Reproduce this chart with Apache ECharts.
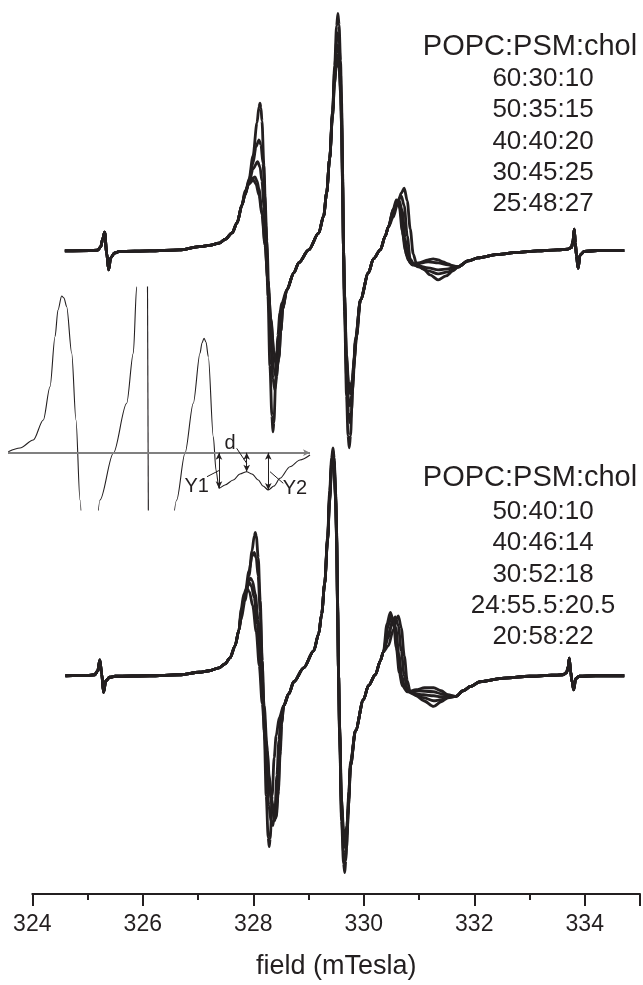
<!DOCTYPE html>
<html>
<head>
<meta charset="utf-8">
<script src="https://cdn.jsdelivr.net/npm/echarts@6/dist/echarts.min.js"></script>
<style>
html,body{margin:0;padding:0;background:#fff}
#chart{width:643px;height:985px}
</style>
</head>
<body>
<div id="chart"></div>
<script>
// ---- EPR spectra: field (mT) vs. derivative intensity (arbitrary units) ----
const tickLabels = [324, 326, 328, 330, 332, 334];
const headerText = 'POPC:PSM:chol';
const topLabels = ['60:30:10', '50:35:15', '40:40:20', '30:45:25', '25:48:27'];
const bottomLabels = ['50:40:10', '40:46:14', '30:52:18', '24:55.5:20.5', '20:58:22'];

// vertical offsets of the two stacks of spectra
const topBase = 643.3;
const bottomBase = 218.3;

// upper stack: segments common to all five spectra
const topLead = [[324.589,0],[325.04,0.3],[325.184,0.8],[325.238,4],[325.274,12],[325.31,18.7],[325.346,-2],[325.382,-19],[325.418,-7],[325.49,-2],[325.58,-0.5],[326.121,0],[326.661,1],[327.022,4.3],[327.202,5.5],[327.382,7.7],[327.49,11.5],[327.616,18],[327.706,28],[327.796,46]];
const topRise1 = [[328.607,-39],[328.733,-22],[328.823,-12],[329.003,1],[329.184,17.7],[329.274,35],[329.328,58],[329.382,92]];
const topRise2 = [[329.94,-49],[330.084,-22],[330.174,-8],[330.3,1],[330.39,15],[330.445,24]];
const topTail = [[331.706,-16],[331.886,-10],[332.067,-7],[332.427,-3.5],[332.787,-1.5],[333.147,0],[333.508,1],[333.688,1.7],[333.76,3.5],[333.787,10],[333.81,21.7],[333.83,8],[333.85,-5],[333.88,-17.3],[333.915,-4],[333.994,-0.5],[334.229,0.3],[334.715,0.3]];

// upper stack: low-field line, central line, high-field line of each spectrum
const topA1 = [[327.85,56],[327.923,72],[327.995,95],[328.067,128],[328.103,144],[328.121,147.7],[328.139,143],[328.157,130],[328.193,85],[328.229,25],[328.265,-45],[328.301,-115],[328.337,-165],[328.355,-181],[328.373,-172],[328.409,-125],[328.445,-85],[328.481,-62],[328.517,-52]];
const topA2 = [[329.436,140],[329.472,185],[329.508,225],[329.532,237.7],[329.553,226],[329.58,190],[329.598,150],[329.616,80],[329.634,0],[329.652,-60],[329.688,-145],[329.715,-185],[329.737,-197],[329.76,-185],[329.796,-140],[329.85,-90]];
const topA3 = [[330.535,34],[330.607,46],[330.679,58],[330.733,62.7],[330.787,50],[330.841,22],[330.895,-3],[330.949,-12],[331.076,-18],[331.2,-24],[331.346,-29],[331.49,-25],[331.616,-20]];

const topB1 = [[327.85,56],[327.923,70],[327.995,88],[328.049,104],[328.103,111],[328.139,106],[328.175,88],[328.211,55],[328.247,10],[328.283,-45],[328.319,-95],[328.355,-128],[328.391,-139],[328.427,-125],[328.463,-90],[328.517,-58]];
const topB2 = [[329.436,140],[329.472,180],[329.508,210],[329.526,218],[329.553,208],[329.58,178],[329.598,140],[329.616,75],[329.634,0],[329.652,-55],[329.688,-125],[329.724,-162],[329.751,-172],[329.778,-160],[329.814,-120],[329.85,-90]];
const topB3 = [[330.535,38],[330.607,50],[330.679,55],[330.733,45],[330.787,15],[330.841,-8],[330.913,-14],[330.985,-16],[331.166,-20],[331.346,-23],[331.526,-21],[331.616,-19]];

const topC1 = [[327.85,56],[327.923,68],[327.995,82],[328.079,89.3],[328.121,84],[328.157,70],[328.193,45],[328.229,10],[328.265,-30],[328.301,-70],[328.337,-100],[328.373,-118],[328.409,-126],[328.445,-112],[328.481,-80],[328.517,-60]];
const topC2 = [[329.436,138],[329.472,175],[329.508,200],[329.526,206],[329.553,198],[329.58,170],[329.598,135],[329.616,72],[329.634,0],[329.652,-50],[329.688,-115],[329.724,-148],[329.751,-155],[329.778,-145],[329.814,-115],[329.85,-88]];
const topC3 = [[330.535,40],[330.607,49],[330.643,50],[330.697,40],[330.751,12],[330.805,-8],[330.877,-14],[330.985,-15],[331.166,-17],[331.346,-19],[331.526,-18],[331.616,-17]];

const topD1 = [[327.85,58],[327.923,68],[327.995,73],[328.031,74],[328.067,70],[328.103,62],[328.157,40],[328.211,8],[328.265,-30],[328.319,-70],[328.373,-103],[328.427,-118],[328.463,-108],[328.499,-80],[328.535,-58]];
const topD2 = [[329.436,136],[329.472,170],[329.508,192],[329.526,196],[329.553,188],[329.58,162],[329.598,128],[329.616,68],[329.634,0],[329.652,-45],[329.688,-108],[329.724,-136],[329.76,-143],[329.796,-132],[329.832,-108],[329.868,-86]];
const topD3 = [[330.535,42],[330.607,50],[330.661,42],[330.715,15],[330.769,-4],[330.841,-12],[330.949,-13],[331.166,-11],[331.346,-12],[331.526,-14],[331.616,-15]];

const topE1 = [[327.85,60],[327.923,67],[328.0,71],[328.049,67],[328.103,56],[328.157,36],[328.211,6],[328.265,-30],[328.319,-68],[328.373,-100],[328.427,-114],[328.463,-106],[328.499,-80],[328.535,-58]];
const topE2 = [[329.436,135],[329.472,168],[329.508,188],[329.526,191],[329.553,183],[329.58,158],[329.598,125],[329.616,66],[329.634,0],[329.652,-44],[329.688,-104],[329.724,-131],[329.76,-138],[329.796,-128],[329.832,-106],[329.868,-85]];
const topE3 = [[330.535,42],[330.589,51],[330.643,44],[330.697,20],[330.751,0],[330.805,-9],[330.877,-14],[330.985,-12],[331.166,-9],[331.256,-8],[331.346,-9],[331.436,-11],[331.526,-13],[331.616,-15]];

// lower stack: common segments
const botLead = [[324.6,0],[325.0,0.3],[325.13,1],[325.185,5],[325.222,16],[325.256,2],[325.29,-16.7],[325.33,-5],[325.4,-1.5],[325.5,-0.5],[326.121,0],[326.661,1],[327.022,3.5],[327.202,5],[327.382,8],[327.49,12],[327.58,18],[327.67,30],[327.742,46]];
const botRise1 = [[328.55,-30],[328.643,-18],[328.733,-6],[328.913,8],[329.094,25],[329.184,42],[329.238,62],[329.292,92]];
const botRise2 = [[329.85,-55],[329.994,-24],[330.084,-10],[330.21,1],[330.3,15],[330.355,24]];
const botTail = [[331.667,-20.7],[331.8,-15],[331.934,-10.7],[332.1,-6],[332.54,-2.3],[333.0,-0.5],[333.4,0.5],[333.6,1],[333.67,3],[333.7,9],[333.72,17.7],[333.745,4],[333.77,-6],[333.8,-14],[333.835,-3],[333.9,-0.5],[334.2,0],[334.715,0]];

// lower stack: per-spectrum lines
const botA1 = [[327.778,56],[327.85,75],[327.923,100],[327.977,125],[328.018,140],[328.036,143.3],[328.054,140],[328.09,118],[328.126,75],[328.162,15],[328.198,-55],[328.234,-120],[328.27,-162],[328.288,-171],[328.306,-163],[328.342,-120],[328.378,-82],[328.414,-60],[328.47,-42]];
const botA2 = [[329.346,140],[329.382,185],[329.418,218],[329.443,228],[329.464,218],[329.49,185],[329.508,145],[329.526,75],[329.544,0],[329.562,-60],[329.598,-145],[329.634,-188],[329.656,-197],[329.674,-185],[329.71,-140],[329.76,-90]];
const botA3 = [[330.445,30],[330.535,46],[330.6,58],[330.625,60],[330.679,48],[330.733,20],[330.787,-5],[330.841,-16],[330.949,-20],[331.085,-25],[331.265,-30.7],[331.4,-26],[331.525,-22]];

const botB1 = [[327.778,60],[327.85,82],[327.923,105],[327.98,120],[328.016,123.3],[328.052,118],[328.088,100],[328.124,65],[328.16,15],[328.196,-40],[328.232,-90],[328.283,-130],[328.319,-145],[328.355,-150],[328.391,-135],[328.427,-100],[328.463,-65],[328.5,-42]];
const botB2 = [[329.346,138],[329.382,180],[329.418,214],[329.443,225],[329.464,215],[329.49,182],[329.508,142],[329.526,72],[329.544,0],[329.562,-58],[329.598,-140],[329.634,-178],[329.66,-185],[329.69,-172],[329.725,-130],[329.76,-90]];
const botB3 = [[330.445,38],[330.5,50],[330.571,59],[330.625,50],[330.679,25],[330.733,0],[330.787,-13],[330.877,-18],[331.085,-22],[331.265,-25],[331.4,-24],[331.525,-21.5]];

const botC1 = [[327.778,62],[327.85,80],[327.912,94],[327.948,97.7],[327.984,95],[328.036,82],[328.09,55],[328.144,15],[328.198,-30],[328.252,-75],[328.306,-115],[328.355,-138],[328.391,-145],[328.427,-128],[328.463,-90],[328.5,-50]];
const botC2 = [[329.346,137],[329.382,178],[329.418,211],[329.443,222],[329.464,212],[329.49,180],[329.508,140],[329.526,70],[329.544,0],[329.562,-55],[329.598,-132],[329.634,-165],[329.665,-172],[329.695,-160],[329.73,-124],[329.76,-90]];
const botC3 = [[330.445,42],[330.528,56],[330.58,48],[330.634,22],[330.688,0],[330.742,-12],[330.841,-17],[331.085,-19],[331.265,-20],[331.4,-21],[331.525,-21]];

const botD1 = [[327.778,63],[327.85,82],[327.928,93.3],[327.964,90],[328.018,78],[328.072,52],[328.126,15],[328.18,-25],[328.234,-65],[328.288,-102],[328.342,-128],[328.409,-142],[328.445,-120],[328.481,-80],[328.51,-50]];
const botD2 = [[329.346,136],[329.382,176],[329.418,209],[329.443,220],[329.464,210],[329.49,178],[329.508,138],[329.526,68],[329.544,0],[329.562,-52],[329.598,-128],[329.634,-160],[329.665,-166],[329.695,-155],[329.73,-120],[329.76,-88]];
const botD3 = [[330.445,50],[330.499,60],[330.553,52],[330.607,25],[330.661,2],[330.715,-10],[330.805,-16],[330.985,-15],[331.265,-16],[331.4,-18],[331.525,-20]];

const botE1 = [[327.778,66],[327.83,82],[327.881,87.7],[327.93,84],[327.99,70],[328.054,44],[328.108,10],[328.162,-28],[328.216,-65],[328.27,-98],[328.324,-122],[328.373,-136],[328.418,-140],[328.454,-115],[328.49,-75],[328.515,-48]];
const botE2 = [[329.346,135],[329.382,174],[329.418,207],[329.443,218],[329.464,208],[329.49,176],[329.508,136],[329.526,66],[329.544,0],[329.562,-50],[329.598,-124],[329.634,-154],[329.665,-160],[329.695,-150],[329.73,-116],[329.76,-86]];
const botE3 = [[330.42,52],[330.481,63.3],[330.535,55],[330.589,28],[330.643,3],[330.697,-10],[330.787,-16],[330.949,-14],[331.1,-12],[331.265,-12],[331.4,-15],[331.525,-19]];

// enlarged single spectrum (inset), four visible pieces
const insetPiece1 = [[327.005,1],[327.218,4.7],[327.46,12.7],[327.642,32.7],[327.764,66],[327.855,116],[327.909,142.7],[327.976,156.7],[328.018,154.7],[328.067,146],[328.158,99.7],[328.236,32.7],[328.309,-47.3],[328.364,-107]];
const insetPiece2 = [[328.582,-107],[328.673,-47.3],[328.915,-0.6],[329.158,49.4],[329.278,99.4],[329.34,166],[329.4,252]];
const insetPiece3 = [[329.53,260],[329.556,-120]];
const insetPiece4 = [[329.945,-107],[330.067,-47.3],[330.218,-0.6],[330.369,49.4],[330.491,99.4],[330.527,109.7],[330.564,114.4],[330.6,110.7],[330.642,96],[330.733,16],[330.782,-17.3],[330.836,-35.6],[330.945,-32.3],[331.096,-27.3],[331.218,-21.3],[331.34,-19],[331.436,-21.3],[331.551,-27.3],[331.636,-33.3],[331.733,-37.3],[331.836,-33.3],[331.945,-25.6],[332.127,-14],[332.309,-7.3],[332.491,-2.3]];
// Y1, d, Y2 amplitudes measured from the zero line
const insetMarks = [['Y1', 330.836, -35.6], ['d', 331.34, -19], ['Y2', 331.733, -37.3]];

const INK = '#231f20';
const FONT = '"Liberation Sans", Arial, Helvetica, sans-serif';

function spectrum(parts, base) {
  return [].concat(...parts).map(p => [p[0], p[1] + base]);
}

const topSets = [
  [topA1, topA2, topA3], [topB1, topB2, topB3], [topC1, topC2, topC3],
  [topD1, topD2, topD3], [topE1, topE2, topE3]
];
const botSets = [
  [botA1, botA2, botA3], [botB1, botB2, botB3], [botC1, botC2, botC3],
  [botD1, botD2, botD3], [botE1, botE2, botE3]
];

const lineBase = {
  type: 'line', xAxisIndex: 0, yAxisIndex: 0, symbol: 'none',
  smooth: 0.3, smoothMonotone: 'x', silent: true,
  lineStyle: { color: INK, width: 2.8 }
};

const series = [];
topSets.forEach((s, i) => {
  series.push(Object.assign({}, lineBase, {
    name: topLabels[i],
    data: spectrum([topLead, s[0], topRise1, s[1], topRise2, s[2], topTail], topBase)
  }));
});
botSets.forEach((s, i) => {
  series.push(Object.assign({}, lineBase, {
    name: bottomLabels[i],
    data: spectrum([botLead, s[0], botRise1, s[1], botRise2, s[2], botTail], bottomBase)
  }));
});

const insetBase = {
  type: 'line', xAxisIndex: 1, yAxisIndex: 1, symbol: 'none',
  smooth: 0.3, smoothMonotone: 'x', silent: true, clip: true,
  lineStyle: { color: INK, width: 1.1 }
};
[insetPiece1, insetPiece2, insetPiece3].forEach(d => series.push(Object.assign({}, insetBase, { data: d })));

// last inset piece carries the zero line, the arrows and their labels
const arrowLines = insetMarks.map(m => [
  { coord: [m[1], 0], symbol: 'arrow' },
  { coord: [m[1], m[2]], symbol: 'arrow' }
]);
const leaderLines = [
  [[330.618, -24], [330.855, -17.3]],
  [[331.158, 4.4], [331.34, -10.6]],
  [[331.764, -19], [332.005, -30.6]]
].map(l => [{ coord: l[0], symbol: 'none' }, { coord: l[1], symbol: 'none' }]);

series.push(Object.assign({}, insetBase, {
  data: insetPiece4,
  markLine: {
    silent: true, animation: false, symbolSize: [5, 7],
    label: { show: false },
    lineStyle: { color: INK, width: 1, type: 'solid' },
    data: [
      { yAxis: 0, symbol: 'none', lineStyle: { color: '#808080', width: 1.8 } }
    ].concat(arrowLines, leaderLines)
  },
  markPoint: {
    silent: true, animation: false, symbol: 'circle', symbolSize: 0,
    label: { show: true, position: 'inside', color: INK, fontFamily: FONT, fontSize: 20 },
    data: [
      { coord: [330.431, -34], value: insetMarks[0][0], label: { formatter: insetMarks[0][0] } },
      { coord: [331.036, 9.4], value: insetMarks[1][0], label: { formatter: insetMarks[1][0] } },
      { coord: [332.218, -35.6], value: insetMarks[2][0], label: { formatter: insetMarks[2][0] } }
    ]
  }
}));

// composition legends (plain text blocks at the right)
function textBlock(lines, headY, firstY, step) {
  const out = [{
    type: 'text', x: 530, y: headY, silent: true,
    style: { text: headerText, fill: INK, font: '29px ' + FONT, textAlign: 'center', textVerticalAlign: 'middle' }
  }];
  lines.forEach((t, i) => out.push({
    type: 'text', x: 543, y: firstY + i * step, silent: true,
    style: { text: t, fill: INK, font: '26px ' + FONT, textAlign: 'center', textVerticalAlign: 'middle' }
  }));
  return out;
}
const graphics = [].concat(
  textBlock(topLabels, 47, 79, 31.3),
  textBlock(bottomLabels, 478, 512, 31.2)
);

const chart = echarts.init(document.getElementById('chart'), null, { renderer: 'canvas' });
chart.setOption({
  animation: false,
  backgroundColor: '#ffffff',
  grid: [
    { left: 32.3, right: 0, top: 0, bottom: 90.7 },
    { left: 8, width: 302, top: 287, height: 223 }
  ],
  xAxis: [
    {
      gridIndex: 0, type: 'value', min: 324, max: 335, interval: 2,
      name: 'field (mTesla)', nameLocation: 'middle', nameGap: 59,
      nameTextStyle: { color: INK, fontSize: 27, fontFamily: FONT },
      axisLine: { show: true, lineStyle: { color: INK, width: 2 } },
      axisTick: { show: true, inside: false, length: 12, lineStyle: { color: INK, width: 2 } },
      minorTick: { show: true, splitNumber: 2, length: 6, lineStyle: { color: INK, width: 2 } },
      splitLine: { show: false },
      axisLabel: {
        color: INK, fontSize: 23, fontFamily: FONT, margin: 19,
        formatter: v => (tickLabels.indexOf(v) >= 0 ? String(v) : '')
      }
    },
    { gridIndex: 1, type: 'value', min: 327, max: 332.491, show: false }
  ],
  yAxis: [
    { gridIndex: 0, type: 'value', min: 0, max: 894.3, show: false },
    { gridIndex: 1, type: 'value', min: -57.3, max: 165.7, show: false }
  ],
  graphic: graphics,
  series: series
});
</script>
</body>
</html>
